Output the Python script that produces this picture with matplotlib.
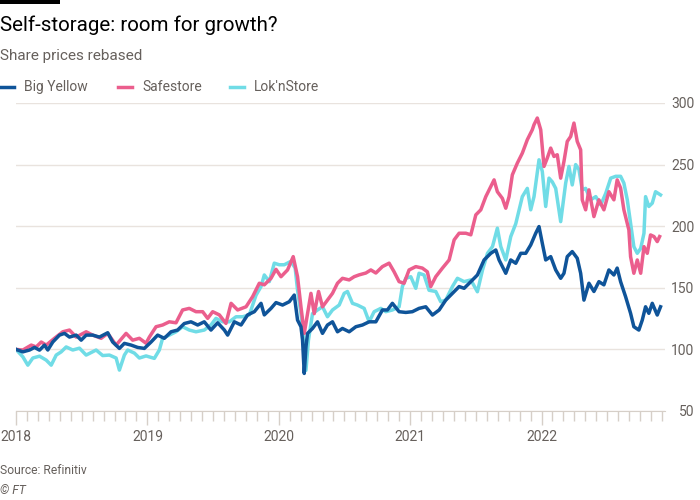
import matplotlib
matplotlib.use("Agg")
import matplotlib.pyplot as plt
import matplotlib.ticker as mticker
from matplotlib.patches import Rectangle
from matplotlib.lines import Line2D

# Share prices rebased (2018 = 100).
# x values are decimal years.
BIG_YELLOW_T = [
    2018.000, 2018.052, 2018.103, 2018.141, 2018.179, 2018.217, 2018.242, 2018.280,
    2018.331, 2018.369, 2018.407, 2018.458, 2018.496, 2018.534, 2018.584, 2018.635,
    2018.698, 2018.736, 2018.787, 2018.825, 2018.876, 2018.926, 2018.977, 2019.028,
    2019.078, 2019.129, 2019.180, 2019.230, 2019.281, 2019.332, 2019.383, 2019.433,
    2019.484, 2019.535, 2019.586, 2019.611, 2019.662, 2019.713, 2019.763, 2019.814,
    2019.865, 2019.890, 2019.941, 2019.979, 2020.029, 2020.080, 2020.118, 2020.143,
    2020.169, 2020.181, 2020.194, 2020.207, 2020.219, 2020.257, 2020.295, 2020.333,
    2020.371, 2020.409, 2020.447, 2020.485, 2020.536, 2020.587, 2020.637, 2020.688,
    2020.739, 2020.789, 2020.827, 2020.865, 2020.916, 2020.967, 2021.017, 2021.068,
    2021.119, 2021.170, 2021.221, 2021.271, 2021.322, 2021.373, 2021.411, 2021.462,
    2021.512, 2021.563, 2021.614, 2021.652, 2021.677, 2021.728, 2021.766, 2021.804,
    2021.842, 2021.880, 2021.918, 2021.956, 2021.981, 2022.006, 2022.032, 2022.070,
    2022.108, 2022.146, 2022.171, 2022.196, 2022.234, 2022.272, 2022.298, 2022.323,
    2022.361, 2022.399, 2022.437, 2022.475, 2022.513, 2022.551, 2022.576, 2022.602,
    2022.640, 2022.678, 2022.703, 2022.741, 2022.767, 2022.792, 2022.817, 2022.843,
    2022.881, 2022.906,
]
BIG_YELLOW = [
    100, 98, 99.5, 101.6, 99.4, 103.5, 99.5, 106,
    111.6, 113, 110, 111.6, 107.5, 111.6, 111.6, 110,
    113.5, 106, 100.8, 104.9, 103.5, 101.6, 100.8, 106,
    111.6, 109, 114.3, 115.7, 121, 122.4, 119.8, 122.4,
    115.7, 121.6, 115.7, 111.6, 122.4, 119.8, 128, 130.6,
    137.4, 128, 133.3, 138, 136, 138.7, 144.1, 123.8,
    118.4, 107.6, 80.5, 102, 113, 117, 122.4, 113,
    119.8, 122.4, 114.3, 117, 114.3, 118.4, 119.8, 122.4,
    122.4, 132, 132, 137.4, 130.6, 130, 130.6, 133.3,
    134.6, 127.9, 132, 140, 145.5, 151, 149.6, 155,
    160.4, 172.6, 178, 180.7, 172.6, 161.8, 172.6, 169.9,
    178, 178, 184.8, 194.3, 199.7, 186.2, 172.6, 175.3,
    164.5, 157.7, 161.8, 175.3, 179.4, 174, 161.8, 140,
    153.7, 147, 155, 152.4, 164.5, 160.4, 166, 155,
    142.8, 129.3, 118.4, 115.7, 123.8, 134.6, 129.3, 137.4,
    127.9, 134.6,
]

SAFESTORE_T = [
    2018.000, 2018.052, 2018.116, 2018.154, 2018.192, 2018.230, 2018.293, 2018.356,
    2018.407, 2018.458, 2018.534, 2018.584, 2018.648, 2018.698, 2018.762, 2018.838,
    2018.888, 2018.939, 2018.990, 2019.015, 2019.066, 2019.116, 2019.167, 2019.218,
    2019.268, 2019.319, 2019.370, 2019.421, 2019.459, 2019.497, 2019.548, 2019.598,
    2019.637, 2019.687, 2019.751, 2019.801, 2019.852, 2019.890, 2019.941, 2019.979,
    2020.017, 2020.067, 2020.110, 2020.143, 2020.169, 2020.194, 2020.211, 2020.245,
    2020.270, 2020.303, 2020.333, 2020.371, 2020.409, 2020.447, 2020.485, 2020.536,
    2020.574, 2020.612, 2020.663, 2020.701, 2020.739, 2020.789, 2020.840, 2020.878,
    2020.916, 2020.954, 2020.992, 2021.043, 2021.093, 2021.131, 2021.157, 2021.195,
    2021.246, 2021.297, 2021.335, 2021.373, 2021.424, 2021.462, 2021.500, 2021.538,
    2021.576, 2021.614, 2021.639, 2021.664, 2021.702, 2021.728, 2021.753, 2021.778,
    2021.816, 2021.854, 2021.892, 2021.930, 2021.943, 2021.968, 2021.994, 2022.019,
    2022.044, 2022.070, 2022.095, 2022.120, 2022.146, 2022.171, 2022.196, 2022.222,
    2022.247, 2022.272, 2022.298, 2022.310, 2022.336, 2022.361, 2022.399, 2022.437,
    2022.475, 2022.513, 2022.551, 2022.576, 2022.602, 2022.627, 2022.665, 2022.678,
    2022.703, 2022.729, 2022.755, 2022.780, 2022.805, 2022.830, 2022.856, 2022.881,
    2022.899,
]
SAFESTORE = [
    100, 99.5, 103.5, 102, 106, 103.5, 109, 114.3,
    115.7, 110, 114.3, 111.6, 109, 113, 103.5, 113,
    107.5, 109, 105, 110, 118.4, 119.8, 122.4, 121.6,
    132, 133.3, 130.6, 130.6, 125.2, 130.6, 128, 121.1,
    137.4, 132, 134.6, 142.8, 153.7, 152.4, 157.7, 165,
    159, 164.5, 175.3, 159, 134.6, 113, 123.8, 145.5,
    129, 147, 134.6, 140, 145.5, 153.7, 157.7, 156.4,
    159, 160.5, 162, 164.5, 162, 167.2, 170, 163,
    155, 153.7, 164.5, 167.2, 166, 163, 151, 159,
    166, 172.6, 188.9, 194.3, 194.3, 193, 209.2, 213.3,
    224, 232.2, 237.6, 228, 222.6, 214.6, 224, 241.7,
    251.2, 259.3, 270.2, 278.3, 282.4, 287.8, 278.3, 248.5,
    255.3, 263.4, 256.6, 258, 239, 252.6, 268.8, 272.8,
    283.7, 268.8, 262, 221.4, 213.3, 229.5, 207.8, 221.4,
    213.3, 228, 221.4, 237.6, 231, 213.3, 197, 175.3,
    161.8, 172.6, 161.8, 183.4, 178, 192.9, 191.6, 187.5,
    191.6,
]

LOKNSTORE_T = [
    2018.000, 2018.052, 2018.090, 2018.128, 2018.179, 2018.230, 2018.268, 2018.306,
    2018.344, 2018.382, 2018.432, 2018.483, 2018.534, 2018.610, 2018.660, 2018.711,
    2018.762, 2018.787, 2018.825, 2018.850, 2018.901, 2018.939, 2018.990, 2019.053,
    2019.091, 2019.116, 2019.167, 2019.218, 2019.268, 2019.319, 2019.370, 2019.433,
    2019.484, 2019.522, 2019.573, 2019.624, 2019.675, 2019.725, 2019.776, 2019.827,
    2019.865, 2019.890, 2019.928, 2019.966, 2020.004, 2020.042, 2020.093, 2020.125,
    2020.143, 2020.169, 2020.194, 2020.207, 2020.226, 2020.257, 2020.295, 2020.333,
    2020.371, 2020.409, 2020.460, 2020.498, 2020.523, 2020.561, 2020.599, 2020.650,
    2020.688, 2020.726, 2020.777, 2020.815, 2020.865, 2020.916, 2020.941, 2020.967,
    2021.005, 2021.043, 2021.068, 2021.106, 2021.144, 2021.195, 2021.233, 2021.271,
    2021.322, 2021.360, 2021.411, 2021.462, 2021.512, 2021.551, 2021.589, 2021.627,
    2021.664, 2021.690, 2021.728, 2021.766, 2021.804, 2021.854, 2021.892, 2021.918,
    2021.943, 2021.981, 2022.006, 2022.032, 2022.057, 2022.082, 2022.108, 2022.146,
    2022.184, 2022.209, 2022.234, 2022.260, 2022.285, 2022.310, 2022.336, 2022.374,
    2022.413, 2022.451, 2022.489, 2022.527, 2022.565, 2022.602, 2022.627, 2022.653,
    2022.678, 2022.703, 2022.729, 2022.755, 2022.780, 2022.792, 2022.817, 2022.843,
    2022.868, 2022.906,
]
LOKNSTORE = [
    100, 94, 87.2, 93, 94.5, 91.3, 87.2, 95.4,
    98, 102, 99.5, 101, 95.4, 99.5, 95, 95.4,
    93, 83.2, 95.4, 99.5, 97, 93, 94.7, 92.7,
    99.5, 109, 111.6, 114.3, 118.4, 115.7, 114.3, 115.7,
    119.8, 125.2, 122.4, 122.4, 126.5, 126.5, 128, 144,
    151, 160.4, 155, 170, 168.7, 168.7, 171.5, 166,
    148.2, 129, 102, 83, 107.5, 129, 132, 134.6,
    126.5, 132, 136, 145.5, 147, 137.4, 136, 133.3,
    122.4, 130.6, 133.3, 130.6, 132, 134.6, 151, 157.7,
    159, 149.6, 161.8, 160.4, 148, 147, 138.7, 140,
    151, 157.7, 155, 156.4, 146.8, 164.5, 178, 183.5,
    198.4, 183.5, 172.6, 191.6, 202, 224, 230.7, 213.3,
    224, 253.9, 244.5, 216, 239, 236, 230.7, 203.7,
    235, 248.5, 233.5, 250, 246, 229.5, 230.7, 221.4,
    224, 217.3, 226.7, 239, 240.5, 240.5, 235, 221.4,
    202.4, 183.4, 178, 182, 194.3, 224, 216, 218.7,
    228, 225.4,
]

YEARS = [2018, 2019, 2020, 2021, 2022]
Y_TICKS = [50, 100, 150, 200, 250, 300]

BLUE = "#0f5499"
PINK = "#eb5e8d"
CYAN = "#70dce6"
INK_MUTED = "#66605c"
GRID = "#e9e3de"
AXIS = "#d6cfc8"

plt.rcParams["font.family"] = ["Roboto", "DejaVu Sans"]

fig = plt.figure(figsize=(7, 5), dpi=100, facecolor="white")
ax = fig.add_axes([16 / 700, 1 - 411 / 500, 649 / 700, 308 / 500])
ax.set_facecolor("white")

lw = 2.5
ax.plot(LOKNSTORE_T, LOKNSTORE, color=CYAN, lw=lw, solid_joinstyle="round", zorder=3)
ax.plot(SAFESTORE_T, SAFESTORE, color=PINK, lw=lw, solid_joinstyle="round", zorder=4)
ax.plot(BIG_YELLOW_T, BIG_YELLOW, color=BLUE, lw=lw, solid_joinstyle="round", zorder=5)

ax.set_ylim(50, 300)
ax.set_xlim(2018.0, 2022.94)

# y labels on the right, right-aligned at ~694 px
ax.yaxis.tick_right()
ax.set_yticks(Y_TICKS)
ax.grid(axis="y", color=GRID, linewidth=1, zorder=0)
ax.tick_params(axis="y", length=0, pad=21, labelsize=10, labelcolor=INK_MUTED)
for lbl in ax.get_yticklabels():
    lbl.set_horizontalalignment("right")

ax.set_xticks(YEARS)
ax.set_xticklabels([str(y) for y in YEARS])
ax.xaxis.set_minor_locator(mticker.MultipleLocator(1 / 12))
ax.tick_params(axis="x", which="major", length=10, color=AXIS, width=1,
               labelsize=10, labelcolor=INK_MUTED, pad=4)
ax.tick_params(axis="x", which="minor", length=7, color=AXIS, width=1)

for s in ["top", "right", "left"]:
    ax.spines[s].set_visible(False)
ax.spines["bottom"].set_color(AXIS)

# header
fig.add_artist(Rectangle((0, 1 - 4 / 500), 60 / 700, 4 / 500, transform=fig.transFigure,
                         color="black", lw=0))
fig.text(0, 1 - 25 / 500, "Self-storage: room for growth?", fontsize=14.8,
         color="black", va="center", ha="left")
fig.text(0, 1 - 56 / 500, "Share prices rebased", fontsize=11,
         color=INK_MUTED, va="center", ha="left")

legend_items = [("Big Yellow", BLUE, 0), ("Safestore", PINK, 118), ("Lok'nStore", CYAN, 230)]
for name, col, x0 in legend_items:
    yl = 1 - 87 / 500
    fig.add_artist(Line2D([x0 / 700, (x0 + 14) / 700], [yl, yl], transform=fig.transFigure,
                          color=col, lw=2.5))
    fig.text((x0 + 24) / 700, yl, name, fontsize=10, color=INK_MUTED, va="center", ha="left")

fig.text(0, 1 - 471 / 500, "Source: Refinitiv", fontsize=8.7, color=INK_MUTED,
         va="center", ha="left")
fig.text(0, 1 - 490 / 500, "\u00a9 FT", fontsize=8.7, color=INK_MUTED, style="italic",
         va="center", ha="left")

fig.savefig("out.png", dpi=100, facecolor="white")
